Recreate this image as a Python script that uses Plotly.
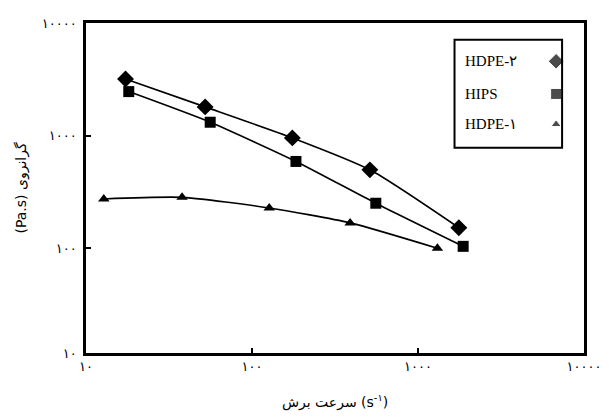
import plotly.graph_objects as go

# ---- data ----
hdpe2_x = [17.3, 52.2, 175, 513, 1762]
hdpe2_y = [3180, 1800, 955, 497, 152]
hips_x = [18.1, 56.0, 184, 557, 1871]
hips_y = [2460, 1315, 590, 251, 104]
hdpe1_x = [12.8, 37.9, 127, 390, 1309]
hdpe1_y = [274, 283, 228, 168, 100]

series_names = ["HDPE-٢", "HIPS", "HDPE-١"]
series_symbols = ["diamond", "square", "triangle-up"]
series_sizes = [13, 11, 10]

x_tickvals = [10, 100, 1000, 10000]
x_ticktext = ["١٠", "١٠٠", "١٠٠٠", "١٠٠٠٠"]
y_bottom = 10 ** 1.07
y_tickvals = [y_bottom, 100, 1000, 10000]
y_ticktext = ["١٠", "١٠٠", "١٠٠٠", "١٠٠٠٠"]

x_title = "سرعت برش (s<sup>-١</sup>)"
y_title = "(Pa.s) گرانروی"

FONT = "Liberation Serif, DejaVu Serif, serif"
TICKFONT = "DejaVu Sans, sans-serif"

fig = go.Figure()
for xs, ys, name, sym, sz in zip(
    [hdpe2_x, hips_x, hdpe1_x], [hdpe2_y, hips_y, hdpe1_y],
    series_names, series_symbols, series_sizes):
    fig.add_trace(go.Scatter(
        x=xs, y=ys, mode="lines+markers", name=name,
        line=dict(color="black", width=1.6, shape="spline", smoothing=0.6),
        marker=dict(symbol=sym, size=sz, color="black"),
        showlegend=False,
    ))

# manual legend (text left, marker right, as in reference)
leg_x_marker = 0.944
leg_y = [0.884, 0.785, 0.693]
fig.add_trace(go.Scatter(
    x=[leg_x_marker] * 3, y=leg_y, mode="markers",
    marker=dict(symbol=series_symbols, size=[12, 11, 9], color="black"),
    xaxis="x2", yaxis="y2", showlegend=False, hoverinfo="skip",
))
for name, yy in zip(series_names, leg_y):
    fig.add_annotation(x=0.758, y=yy, xref="paper", yref="paper",
                       text=name, showarrow=False, xanchor="left", yanchor="middle",
                       font=dict(family=FONT, size=15, color="black"))
fig.add_shape(type="rect", xref="paper", yref="paper",
              x0=0.740, x1=0.956, y0=0.622, y1=0.949,
              line=dict(color="black", width=2), fillcolor="rgba(0,0,0,0)")

axis_common = dict(
    type="log", showline=True, linecolor="black", linewidth=2.5, mirror=True,
    ticks="inside", ticklen=5, tickwidth=2, tickcolor="black",
    showgrid=False, zeroline=False,
    tickfont=dict(family=TICKFONT, size=13, color="black"),
)

# page body has an 8px default margin, so the figure is sized/margined to compensate
fig.update_layout(
    width=601, height=411,
    margin=dict(l=78, r=19, t=8, b=66),
    paper_bgcolor="white", plot_bgcolor="white",
    showlegend=False,
    xaxis=dict(**axis_common, range=[1, 4], tickvals=x_tickvals, ticktext=x_ticktext,
               title=dict(text=x_title, standoff=24,
                          font=dict(family=TICKFONT, size=14, color="black"))),
    yaxis=dict(**axis_common, range=[1.07, 4], tickvals=y_tickvals, ticktext=y_ticktext,
               ticklabelstandoff=4,
               title=dict(text=y_title, standoff=12,
                          font=dict(family=TICKFONT, size=14, color="black"))),
    xaxis2=dict(overlaying="x", range=[0, 1], visible=False),
    yaxis2=dict(overlaying="y", range=[0, 1], visible=False),
)

fig.write_html("out.html")
